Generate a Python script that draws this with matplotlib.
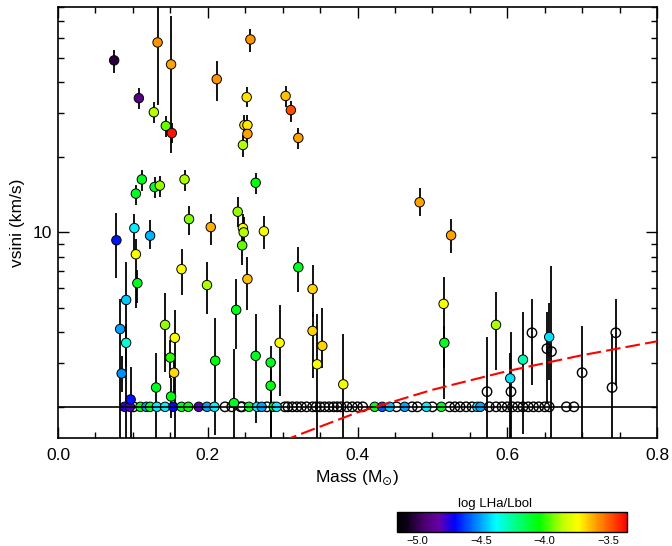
import numpy as np
import matplotlib
matplotlib.use("Agg")
import matplotlib.pyplot as plt
from matplotlib.colors import LinearSegmentedColormap, Normalize
from matplotlib.cm import ScalarMappable
from matplotlib.ticker import LogLocator, NullFormatter, FixedLocator, FixedFormatter, MultipleLocator

plt.rcParams['font.family'] = ['Liberation Sans', 'DejaVu Sans']

# ------------------------------- DATA ---------------------------------------
# stars with measured vsini and an H-alpha detection
det_mass = [0.075, 0.108, 0.133, 0.151, 0.128, 0.144, 0.152, 0.212, 0.257, 0.252,
            0.249, 0.253, 0.253, 0.247, 0.304, 0.311, 0.321, 0.112, 0.104, 0.129,
            0.136, 0.169, 0.264, 0.240, 0.078, 0.102, 0.123, 0.175, 0.204, 0.247,
            0.248, 0.246, 0.275, 0.104, 0.106, 0.165, 0.199, 0.253, 0.321, 0.340,
            0.091, 0.083, 0.091, 0.085, 0.097, 0.143, 0.156, 0.150, 0.155, 0.151,
            0.131, 0.210, 0.238, 0.235, 0.264, 0.284, 0.284, 0.296, 0.340, 0.346,
            0.353, 0.381, 0.515, 0.516, 0.525, 0.483, 0.585, 0.604, 0.621, 0.656]
det_vsini = [48.9, 34.5, 57.7, 47.1, 30.3, 26.7, 25.0, 41.1, 59.3, 34.8,
             26.9, 26.9, 24.8, 22.4, 35.2, 30.9, 23.9, 16.3, 14.3, 15.2,
             15.4, 16.3, 15.8, 12.1, 9.3, 10.4, 9.7, 11.3, 10.5, 10.4,
             10.0, 8.87, 10.1, 8.17, 6.26, 7.12, 6.15, 6.5, 7.25, 5.93,
             5.36, 4.10, 3.61, 2.72, 2.14, 4.26, 3.78, 3.15, 2.74, 2.20,
             2.39, 3.06, 4.89, 2.07, 3.20, 3.01, 2.43, 3.61, 4.03, 2.96,
             3.51, 2.46, 5.17, 3.61, 9.73, 13.2, 4.26, 2.60, 3.09, 3.81]
det_lo = [43.7, 31.2, 32.4, 20.8, 27.4, 24.1, 22.8, 33.6, 52.6, 31.8,
          24.3, 24.3, 22.4, 20.1, 31.8, 27.7, 21.6, 14.6, 12.9, 13.7,
          13.9, 14.7, 14.3, 10.5, 6.55, 8.5, 8.55, 9.8, 8.9, 8.9,
          8.6, 7.4, 8.6, 5.0, 5.2, 5.6, 4.7, 4.9, 5.77, 4.6,
          1.5, 1.5, 2.9, 2.3, 1.5, 2.77, 1.5, 2.6, 2.2, 1.8,
          1.5, 1.54, 3.4, 1.5, 1.72, 1.5, 1.5, 2.2, 2.6, 1.5,
          2.85, 1.5, 2.85, 2.15, 8.3, 11.6, 2.8, 1.5, 1.55, 2.55]
det_hi = [53.6, 37.8, 90.0, 73.9, 33.2, 29.2, 27.4, 48.4, 65.5, 38.1,
          29.5, 29.5, 27.2, 24.6, 38.5, 33.6, 26.2, 17.7, 15.5, 16.6,
          16.9, 17.8, 17.3, 13.8, 12.0, 11.8, 11.2, 12.7, 11.9, 11.9,
          11.5, 10.1, 11.6, 9.4, 7.1, 8.55, 7.6, 8.0, 8.7, 7.4,
          7.6, 5.4, 4.3, 3.2, 2.9, 5.7, 4.9, 3.7, 3.2, 2.6,
          3.3, 4.55, 6.5, 3.4, 4.7, 3.5, 2.8, 5.1, 4.8, 4.7,
          5.0, 3.9, 6.6, 4.2, 11.3, 15.0, 5.77, 3.3, 4.8, 5.2]
det_lha = [-5.02, -4.90, -3.58, -3.60, -3.87, -3.95, -3.38, -3.58, -3.58, -3.69,
           -3.69, -3.70, -3.60, -3.87, -3.64, -3.47, -3.60, -4.08, -4.08, -4.08,
           -3.90, -3.88, -4.05, -3.90, -4.68, -4.40, -4.48, -3.92, -3.62, -3.74,
           -3.87, -3.95, -3.76, -3.74, -4.08, -3.74, -3.88, -3.64, -4.08, -3.67,
           -4.45, -4.50, -4.33, -4.52, -4.68, -3.90, -3.74, -4.00, -3.68, -4.05,
           -4.08, -4.05, -4.08, -4.08, -4.08, -4.08, -4.05, -3.74, -3.67, -3.74,
           -3.67, -3.76, -3.74, -4.08, -3.60, -3.60, -3.88, -4.42, -4.28, -4.42]

# measured vsini, no H-alpha emission
noha_mass = [0.573, 0.605, 0.633, 0.653, 0.659, 0.700, 0.740, 0.745]
noha_vsini = [2.30, 2.30, 3.96, 3.42, 3.33, 2.74, 2.39, 3.96]
noha_lo = [1.5, 1.5, 2.44, 2.1, 1.5, 1.5, 1.5, 2.44]
noha_hi = [3.8, 4.0, 5.4, 4.8, 7.3, 4.2, 3.9, 5.4]

# vsini upper limits (plotted at the limit); nan = no H-alpha
VSINI_LIMIT = 2.0
lim_mass = [0.089, 0.096, 0.101, 0.110, 0.118, 0.123, 0.132, 0.143, 0.154, 0.165,
            0.174, 0.188, 0.199, 0.209, 0.223, 0.232, 0.244, 0.246, 0.255, 0.266,
            0.272, 0.279, 0.288, 0.292, 0.303, 0.307, 0.313, 0.319, 0.325, 0.332,
            0.340, 0.345, 0.350, 0.356, 0.362, 0.368, 0.373, 0.378, 0.386, 0.393,
            0.400, 0.407, 0.423, 0.433, 0.443, 0.452, 0.463, 0.473, 0.480, 0.492,
            0.500, 0.512, 0.523, 0.530, 0.537, 0.545, 0.553, 0.560, 0.564, 0.576,
            0.585, 0.593, 0.600, 0.607, 0.614, 0.621, 0.628, 0.635, 0.642, 0.650,
            0.656, 0.679, 0.689]
lim_lha = [-4.75, -4.80, np.nan, -4.08, -4.50, -4.08, -4.40, -4.40, -4.70, -4.08,
           -4.05, -4.80, -4.50, -4.40, np.nan, np.nan, np.nan, np.nan, -4.08, -4.40,
           -4.50, np.nan, -4.08, -4.40, np.nan, np.nan, np.nan, np.nan, np.nan, np.nan,
           np.nan, np.nan, np.nan, np.nan, np.nan, np.nan, np.nan, np.nan, np.nan, np.nan,
           np.nan, np.nan, -4.08, -4.60, -4.45, np.nan, -4.50, np.nan, np.nan, -4.40,
           np.nan, -4.08, np.nan, np.nan, np.nan, np.nan, np.nan, -4.40, -4.50, np.nan,
           np.nan, np.nan, np.nan, np.nan, np.nan, np.nan, np.nan, np.nan, np.nan, np.nan,
           np.nan, np.nan, np.nan]

# red dashed curve
curve_mass = [0.30, 0.40, 0.50, 0.60, 0.70, 0.80]
curve_vsini = [1.46, 1.90, 2.34, 2.78, 3.22, 3.66]

# ------------------------------- STYLE --------------------------------------
cmap = LinearSegmentedColormap.from_list("idl_rainbow", [
    (0.00, (0.0, 0.0, 0.0)),
    (0.04, (0.05, 0.0, 0.08)),
    (0.12, (0.30, 0.0, 0.45)),
    (0.18, (0.40, 0.0, 0.65)),
    (0.25, (0.0, 0.0, 1.0)),
    (0.34, (0.0, 0.5, 1.0)),
    (0.43, (0.0, 1.0, 1.0)),
    (0.53, (0.0, 1.0, 0.45)),
    (0.62, (0.0, 1.0, 0.0)),
    (0.72, (0.75, 1.0, 0.0)),
    (0.79, (1.0, 1.0, 0.0)),
    (0.87, (1.0, 0.6, 0.0)),
    (1.00, (1.0, 0.0, 0.0)),
])
norm = Normalize(vmin=-5.16, vmax=-3.35)

fig = plt.figure(figsize=(6.72, 5.46), dpi=100)
ax = fig.add_axes([58/672, 1-438/546, (657-58)/672, (438-7)/546])

ms = 6.8
# error bars
ax.vlines(det_mass, det_lo, det_hi, color="black", lw=1.3, zorder=2)
ax.vlines(noha_mass, noha_lo, noha_hi, color="black", lw=1.3, zorder=2)

# upper limits row
lim_mass = np.array(lim_mass)
lim_lha = np.array(lim_lha)
has = ~np.isnan(lim_lha)
ax.scatter(lim_mass[~has], np.full((~has).sum(), VSINI_LIMIT), s=ms**2, facecolors="none",
           edgecolors="black", linewidths=1.0, zorder=3)
ax.scatter(lim_mass[has], np.full(has.sum(), VSINI_LIMIT), s=ms**2, c=lim_lha[has], cmap=cmap,
           norm=norm, edgecolors="black", linewidths=0.7, zorder=3)

# detections
ax.scatter(noha_mass, noha_vsini, s=ms**2, facecolors="none", edgecolors="black",
           linewidths=1.0, zorder=3)
ax.scatter(det_mass, det_vsini, s=ms**2, c=det_lha, cmap=cmap, norm=norm,
           edgecolors="black", linewidths=0.7, zorder=4)

ax.axhline(VSINI_LIMIT, color="black", lw=1.2, zorder=5)
ax.plot(curve_mass, curve_vsini, color="red", lw=1.5, dashes=(7, 2.5), zorder=6)

ax.set_yscale("log")
ax.set_xlim(0.0, 0.8)
ax.set_ylim(1.5, 80)
ax.xaxis.set_major_locator(MultipleLocator(0.2))
ax.xaxis.set_minor_locator(MultipleLocator(0.05))
ax.xaxis.set_major_formatter(matplotlib.ticker.FormatStrFormatter("%.1f"))
ax.yaxis.set_major_locator(FixedLocator([10]))
ax.yaxis.set_major_formatter(FixedFormatter(["10"]))
ax.yaxis.set_minor_locator(LogLocator(base=10, subs=np.arange(2, 10)))
ax.yaxis.set_minor_formatter(NullFormatter())
ax.tick_params(which="both", direction="in", top=True, right=True, width=1.0)
ax.tick_params(which="major", length=8)
ax.tick_params(which="minor", length=4)
ax.tick_params(axis="x", labelsize=12.5, pad=7)
ax.tick_params(axis="y", labelsize=12.5, pad=4)
for sp in ax.spines.values():
    sp.set_linewidth(1.2)

ax.set_xlabel(r"Mass (M$_{\odot}$)", fontsize=12.5, labelpad=4)
ax.set_ylabel("vsini (km/s)", fontsize=12.5, labelpad=6)

# colorbar
cax = fig.add_axes([397/672, 1-532/546, 230/672, 20/546])
cb = fig.colorbar(ScalarMappable(norm=norm, cmap=cmap), cax=cax, orientation="horizontal")
cb.set_ticks([-5.0, -4.5, -4.0, -3.5])
cb.set_ticklabels(["\u22125.0", "\u22124.5", "\u22124.0", "\u22123.5"])
cax.tick_params(length=0, labelsize=8, pad=3)
cb.outline.set_linewidth(1.0)
fig.text(495/672, 1-504/546, "log LHa/Lbol", ha="center", va="center", fontsize=9.5)

fig.savefig("out.png", dpi=100)
plt.close(fig)
